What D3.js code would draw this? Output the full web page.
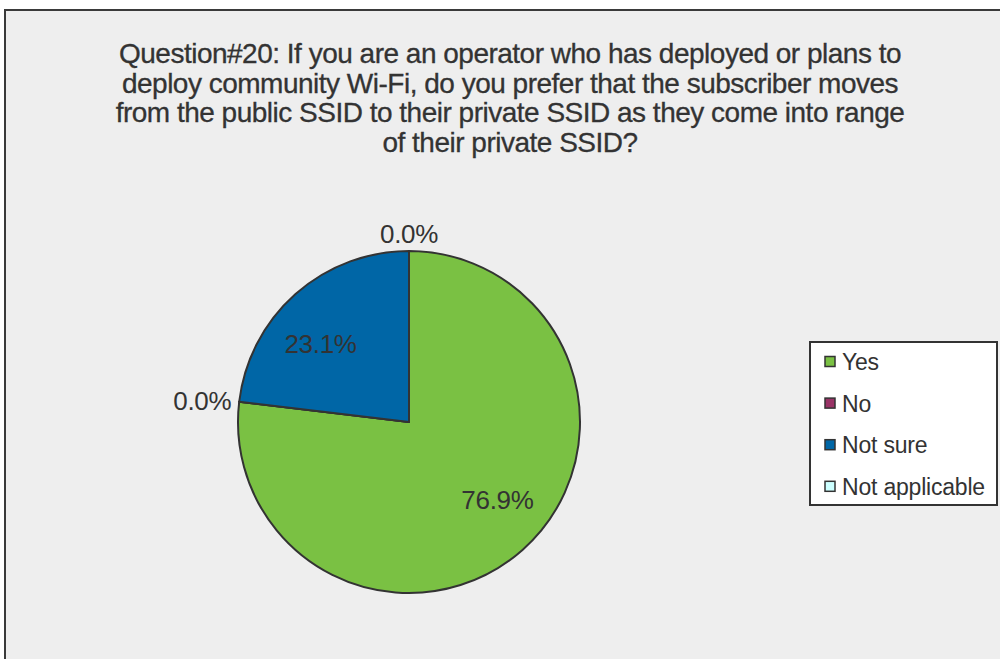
<!DOCTYPE html>
<html>
<head>
<meta charset="utf-8">
<script src="https://cdn.jsdelivr.net/npm/d3@7"></script>
<style>
  body { margin: 0; background: #ffffff; }
  text { font-family: "Liberation Sans", Arial, sans-serif; fill: #333333; }
</style>
</head>
<body>
<script>
// chart data
const categories = ["Yes", "No", "Not sure", "Not applicable"];
const shares = [76.9, 0.0, 23.1, 0.0];
const sliceColors = ["#7AC143", "#993366", "#0066A6", "#CCFFFF"];
const titleLines = [
    "Question#20: If you are an operator who has deployed or plans to",
    "deploy community Wi-Fi, do you prefer that the subscriber moves",
    "from the public SSID to their private SSID as they come into range",
    "of their private SSID?"
];

const width = 1000, height = 659;
const cx = 409, cy = 422, radius = 171;

const svg = d3.select("body").append("svg")
    .attr("width", width)
    .attr("height", height);

// grey chart area with the dark frame
svg.append("rect")
    .attr("x", 5).attr("y", 10)
    .attr("width", 1000).attr("height", 700)
    .attr("fill", "#EEEEEE")
    .attr("stroke", "#3a3a3a")
    .attr("stroke-width", 2);

// title
svg.append("g")
    .selectAll("text")
    .data(titleLines).enter()
    .append("text")
    .attr("x", 510)
    .attr("y", function(d, i) { return 63 + i * 29.7; })
    .attr("text-anchor", "middle")
    .attr("font-size", 28)
    .attr("letter-spacing", -0.5)
    .attr("stroke", "#333333")
    .attr("stroke-width", 0.3)
    .text(function(d) { return d; });

// pie
const color = d3.scaleOrdinal().domain(categories).range(sliceColors);
const pie = d3.pie().sort(null).value(function(d) { return d.value; });
const arc = d3.arc().innerRadius(0).outerRadius(radius);

const slices = pie(categories.map(function(c, i) { return { name: c, value: shares[i] }; }));

const g = svg.append("g").attr("transform", "translate(" + cx + "," + cy + ")");

g.selectAll("path")
    .data(slices).enter()
    .append("path")
    .attr("d", arc)
    .attr("fill", function(d) { return color(d.data.name); })
    .attr("stroke", "#333333")
    .attr("stroke-width", 2)
    .attr("stroke-linejoin", "round");

// percent labels: inside for real slices, outside the rim for empty ones
const labelShift = -7 * Math.PI / 180;
g.selectAll("text.pct")
    .data(slices).enter()
    .append("text")
    .attr("class", "pct")
    .attr("font-size", 26)
    .attr("letter-spacing", -0.3)
    .each(function(d) {
        const t = d3.select(this);
        const a = (d.startAngle + d.endAngle) / 2;
        if (d.data.value > 0) {
            const r = radius * 0.69;
            t.attr("x", r * Math.sin(a + labelShift))
                .attr("y", -r * Math.cos(a + labelShift))
                .attr("text-anchor", "middle")
                .attr("dy", "0.35em");
        } else {
            const r = radius + 8;
            const s = Math.sin(a), c = Math.cos(a);
            t.attr("x", r * s)
                .attr("y", -r * c)
                .attr("text-anchor", Math.abs(s) < 0.3 ? "middle" : (s > 0 ? "start" : "end"))
                .attr("dy", c > 0.7 ? "0" : "0.35em");
        }
        t.text(d3.format(".1f")(d.data.value) + "%");
    });

// legend
const legend = svg.append("g").attr("transform", "translate(810,342)");
legend.append("rect")
    .attr("width", 187).attr("height", 163)
    .attr("fill", "#ffffff")
    .attr("stroke", "#333333")
    .attr("stroke-width", 2);

const items = legend.selectAll("g.item")
    .data(categories).enter()
    .append("g")
    .attr("class", "item")
    .attr("transform", function(d, i) { return "translate(15," + (20 + i * 41.6) + ")"; });

items.append("rect")
    .attr("x", 0).attr("y", -5.5)
    .attr("width", 10).attr("height", 10)
    .attr("fill", function(d) { return color(d); })
    .attr("stroke", "#333333")
    .attr("stroke-width", 1.5);

items.append("text")
    .attr("x", 17)
    .attr("y", 0)
    .attr("dy", "0.36em")
    .attr("font-size", 23)
    .attr("letter-spacing", -0.2)
    .text(function(d) { return d; });
</script>
</body>
</html>
